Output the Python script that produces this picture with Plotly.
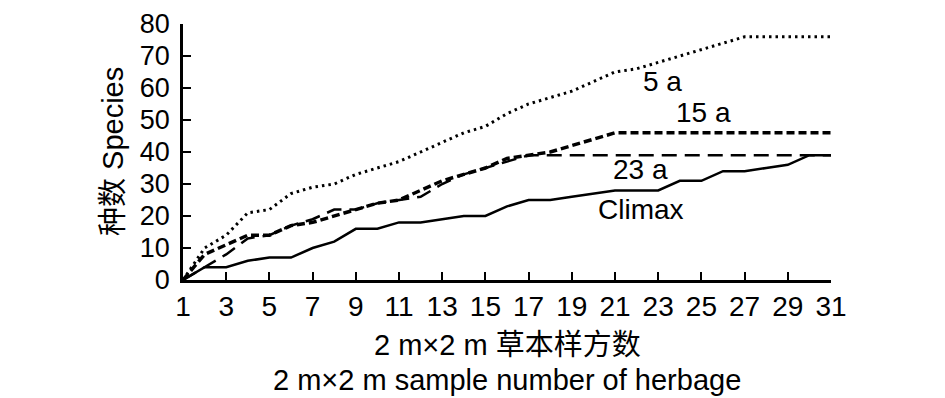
import plotly.graph_objects as go

samples = list(range(1, 32))
y_5a = [0, 10, 14, 21, 22, 27, 29, 30, 33, 35, 37, 40, 43, 46, 48, 52, 55, 57, 59, 62, 65, 66, 68, 70, 72, 74, 76, 76, 76, 76, 76]
y_15a = [0, 8, 11, 14, 14, 17, 18, 20, 22, 24, 25, 28, 31, 33, 35, 38, 39, 40, 42, 44, 46, 46, 46, 46, 46, 46, 46, 46, 46, 46, 46]
y_23a = [0, 4, 8, 13, 14, 17, 19, 22, 22, 24, 25, 26, 30, 33, 35, 37, 39, 39, 39, 39, 39, 39, 39, 39, 39, 39, 39, 39, 39, 39, 39]
y_climax = [0, 4, 4, 6, 7, 7, 10, 12, 16, 16, 18, 18, 19, 20, 20, 23, 25, 25, 26, 27, 28, 28, 28, 31, 31, 34, 34, 35, 36, 39, 39]
x_ticks = list(range(1, 32, 2))
y_ticks = list(range(0, 81, 10))

FONT = "Liberation Sans, Arial, Noto Sans CJK SC, sans-serif"
FS = 28
FT = 29
fig = go.Figure()
fig.add_trace(go.Scatter(x=samples, y=y_5a, mode="lines", name="5 a",
                         line=dict(color="black", width=3, dash="2.5px,4px")))
fig.add_trace(go.Scatter(x=samples, y=y_15a, mode="lines", name="15 a",
                         line=dict(color="black", width=3.5, dash="8px,4px")))
fig.add_trace(go.Scatter(x=samples, y=y_23a, mode="lines", name="23 a",
                         line=dict(color="black", width=2.5, dash="15px,8px")))
fig.add_trace(go.Scatter(x=samples, y=y_climax, mode="lines", name="Climax",
                         line=dict(color="black", width=2.5)))

labels = [("5 a", 23.2, 61.9), ("15 a", 25.1, 52.2), ("23 a", 22.2, 34.4), ("Climax", 22.2, 21.9)]
for txt, xv, yv in labels:
    fig.add_annotation(x=xv, y=yv, text=txt, showarrow=False,
                       font=dict(size=FS, color="black", family=FONT))

fig.add_annotation(xref="paper", yref="paper", x=-0.108, y=0.5, text="种数 Species",
                   textangle=-90, showarrow=False, xanchor="center", yanchor="middle",
                   font=dict(size=FT, color="black", family=FONT))
fig.add_annotation(xref="paper", yref="paper", x=0.5, y=-0.254, text="2 m×2 m 草本样方数",
                   showarrow=False, xanchor="center", yanchor="middle",
                   font=dict(size=FT, color="black", family=FONT))
fig.add_annotation(xref="paper", yref="paper", x=0.5, y=-0.39, text="2 m×2 m sample number of herbage",
                   showarrow=False, xanchor="center", yanchor="middle",
                   font=dict(size=FT, color="black", family=FONT))

fig.update_layout(
    width=937, height=390,
    margin=dict(l=175, r=114, t=16, b=118),
    paper_bgcolor="white", plot_bgcolor="white",
    showlegend=False,
    font=dict(family=FONT, size=FS, color="black"),
)
fig.update_xaxes(range=[1, 31], tickvals=x_ticks, ticktext=[str(v) for v in x_ticks],
                 ticks="inside", ticklen=8, tickwidth=2, tickcolor="black", automargin=False,
                 ticklabeloverflow="allow",
                 showline=True, linecolor="black", linewidth=2.5, showgrid=False, zeroline=False,
                 tickfont=dict(size=FS, color="black", family=FONT))
fig.update_yaxes(range=[0, 80], tickvals=y_ticks, automargin=False,
                 ticklabeloverflow="allow", ticklabelstandoff=5,
                 ticks="inside", ticklen=8, tickwidth=2, tickcolor="black",
                 showline=True, linecolor="black", linewidth=2.5, showgrid=False, zeroline=False,
                 tickfont=dict(size=27, color="black", family=FONT))

fig.write_html("out.html")
